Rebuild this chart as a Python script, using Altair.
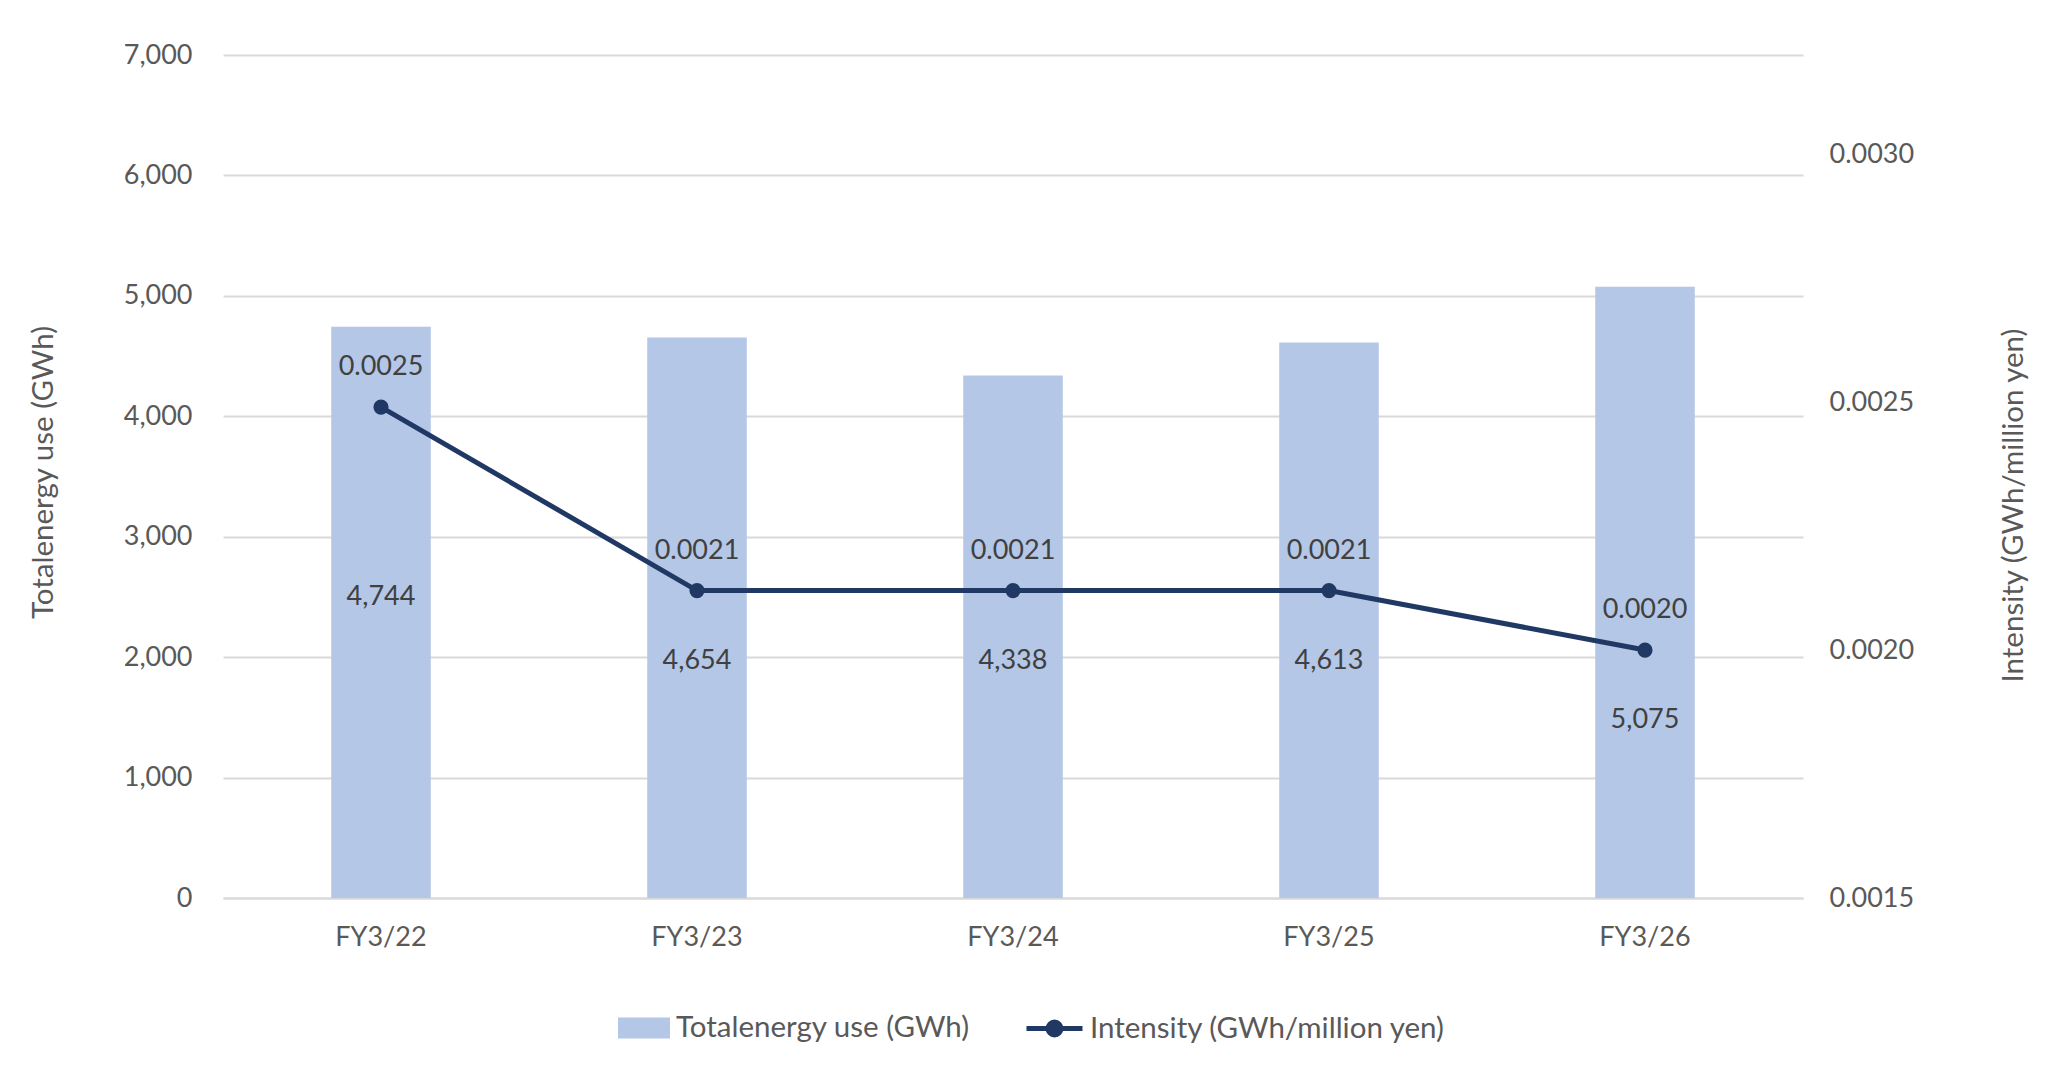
import altair as alt
import pandas as pd

years = ["FY3/22", "FY3/23", "FY3/24", "FY3/25", "FY3/26"]
energy_gwh = [4744, 4654, 4338, 4613, 5075]
intensity = [0.00249, 0.00212, 0.00212, 0.00212, 0.00200]

left_ticks = [0, 1000, 2000, 3000, 4000, 5000, 6000, 7000]
right_ticks = [0.0015, 0.0020, 0.0025, 0.0030]

BAR_NAME = "Totalenergy use (GWh)"
LINE_NAME = "Intensity (GWh/million yen)"
FONT = "Lato"
BAR_COLOR = "#B4C7E7"
LINE_COLOR = "#203864"
AXIS_TEXT = "#595959"
LABEL_TEXT = "#404040"

df = pd.DataFrame(
    {
        "year": years,
        "energy": energy_gwh,
        "intensity": intensity,
        "bar_series": BAR_NAME,
        "line_series": LINE_NAME,
    }
)

x_enc = alt.X(
    "year:N",
    sort=years,
    title=None,
    scale=alt.Scale(paddingInner=0.685, paddingOuter=0.3425),
    axis=alt.Axis(
        labelAngle=0,
        ticks=False,
        labelPadding=39,
        labelBaseline="middle",
        labelFont=FONT,
        labelFontSize=27,
        labelColor=AXIS_TEXT,
        domainColor="#D9D9D9",
        domainWidth=2,
        grid=False,
    ),
)

base = alt.Chart(df).encode(x=x_enc)

bars = base.mark_bar().encode(
    y=alt.Y(
        "energy:Q",
        scale=alt.Scale(domain=[0, 7000], nice=False),
        axis=alt.Axis(
            values=left_ticks,
            format=",.0f",
            title="Totalenergy use (GWh)",
            titleFont=FONT,
            titleFontSize=29.5,
            titleFontWeight="normal",
            titleColor=AXIS_TEXT,
            titleAngle=270,
            titleX=-180,
            titleY=417,
            titleAlign="center",
            titleBaseline="middle",
            labelFont=FONT,
            labelFontSize=27,
            labelColor=AXIS_TEXT,
            labelPadding=31,
            ticks=False,
            domain=False,
            grid=True,
            gridColor="#D9D9D9",
            gridWidth=2,
        ),
    ),
    fill=alt.Fill(
        "bar_series:N",
        scale=alt.Scale(domain=[BAR_NAME], range=[BAR_COLOR]),
        legend=alt.Legend(
            title=None,
            orient="none",
            legendX=395,
            legendY=947,
            padding=0,
            symbolType="M-1,-0.4H1V0.4H-1Z",
            symbolSize=2704,
            symbolStrokeWidth=0,
            labelFont=FONT,
            labelFontSize=29.5,
            labelColor=AXIS_TEXT,
            labelOffset=6,
            labelLimit=0,
        ),
    ),
)

y_right = alt.Y(
    "intensity:Q",
    scale=alt.Scale(domain=[0.0015, 0.0032], nice=False),
    axis=alt.Axis(
        orient="right",
        values=right_ticks,
        format=".4f",
        title="Intensity (GWh/million yen)",
        titleFont=FONT,
        titleFontSize=29.5,
        titleFontWeight="normal",
        titleColor=AXIS_TEXT,
        titleAngle=270,
        titleX=210,
        titleY=450,
        titleAlign="center",
        titleBaseline="middle",
        labelFont=FONT,
        labelFontSize=27,
        labelColor=AXIS_TEXT,
        labelPadding=26,
        ticks=False,
        domain=False,
        grid=False,
    ),
)

line = base.mark_line(strokeWidth=5).encode(
    y=y_right,
    stroke=alt.Stroke(
        "line_series:N",
        scale=alt.Scale(domain=[LINE_NAME], range=[LINE_COLOR]),
        legend=alt.Legend(
            title=None,
            orient="none",
            legendX=801,
            legendY=943,
            padding=0,
            symbolType="M-1,0H1M0.23,0A0.23,0.23 0 1,1 -0.23,0A0.23,0.23 0 1,1 0.23,0Z",
            symbolSize=3136,
            symbolStrokeWidth=5,
            symbolFillColor=LINE_COLOR,
            labelFont=FONT,
            labelFontSize=29.5,
            labelColor=AXIS_TEXT,
            labelOffset=5,
            labelLimit=0,
        ),
    ),
)

points = base.mark_circle(size=230, color=LINE_COLOR, opacity=1).encode(y=y_right)

line_labels = base.mark_text(
    dy=-40, font=FONT, fontSize=27, color=LABEL_TEXT, baseline="middle"
).encode(y=y_right, text=alt.Text("intensity:Q", format=".4f"))

bar_labels_first = (
    base.transform_filter(alt.datum.year == years[0])
    .mark_text(dy=190, font=FONT, fontSize=27, color=LABEL_TEXT, baseline="middle")
    .encode(y=y_right, text=alt.Text("energy:Q", format=","))
)

bar_labels_rest = (
    base.transform_filter(alt.datum.year != years[0])
    .mark_text(dy=70, font=FONT, fontSize=27, color=LABEL_TEXT, baseline="middle")
    .encode(y=y_right, text=alt.Text("energy:Q", format=","))
)

right = alt.layer(
    line, points, line_labels, bar_labels_first, bar_labels_rest
).properties(view=alt.ViewBackground(stroke=None, strokeWidth=0))

chart = (
    alt.layer(bars, right)
    .resolve_scale(y="independent")
    .properties(
        width=1580,
        height=843,
        autosize=alt.AutoSizeParams(type="none"),
        padding={"left": 215, "top": 47, "right": 237, "bottom": 175},
        view=alt.ViewBackground(stroke=None, strokeWidth=0),
    )
    .configure_view(stroke=None, strokeWidth=0, strokeOpacity=0)
    .configure_axisX(grid=False)
    .configure(background="white")
)

chart.save("out.html", embed_options={"renderer": "svg", "actions": False})
